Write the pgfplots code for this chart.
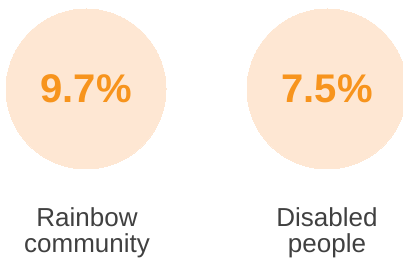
\documentclass[border=0pt]{standalone}
\usepackage{pgfplots}
\pgfplotsset{compat=1.18}
\usepackage{fontspec}
\setmainfont{Liberation Sans}
\definecolor{peach}{HTML}{FEE7D3}
\definecolor{orng}{HTML}{F7941D}
\definecolor{txtgray}{HTML}{404040}
\begin{document}
\begin{tikzpicture}
\begin{axis}[width=403pt, height=259pt,
  scale only axis, xmin=0, xmax=403, ymin=0, ymax=259, hide axis,
  clip=true, clip marker paths=true, clip bounding box=upper bound]
\path (axis cs:0,0) rectangle (axis cs:403,259);
\addplot[color=peach, only marks, mark=*, mark size=80pt, mark options={fill=peach, draw=peach, line width=0pt},
  nodes near coords, point meta=explicit symbolic,
  every node near coord/.append style={font=\bfseries\fontsize{40}{40}\selectfont, text=orng, anchor=base, yshift=-14pt}]
  coordinates {(86,170) [9.7\%] (327,170) [7.5\%]};
\node[anchor=base, text=txtgray, font=\fontsize{26}{29}\selectfont] at (axis cs:87,32) {Rainbow};
\node[anchor=base, text=txtgray, font=\fontsize{26}{29}\selectfont] at (axis cs:87,6) {community};
\node[anchor=base, text=txtgray, font=\fontsize{26}{29}\selectfont] at (axis cs:327,32) {Disabled};
\node[anchor=base, text=txtgray, font=\fontsize{26}{29}\selectfont] at (axis cs:327,6) {people};
\end{axis}
\end{tikzpicture}
\end{document}
